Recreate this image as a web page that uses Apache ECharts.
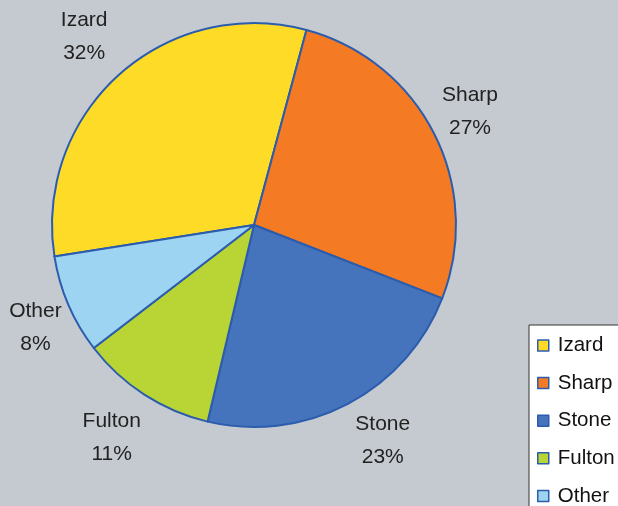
<!DOCTYPE html>
<html>
<head>
<meta charset="utf-8">
<script src="https://cdn.jsdelivr.net/npm/echarts@6/dist/echarts.min.js"></script>
<style>
html,body{margin:0;padding:0;background:#C5CAD0;}
#chart{width:618px;height:506px;}
</style>
</head>
<body>
<div id="chart"></div>
<script>
const categories = ['Izard', 'Sharp', 'Stone', 'Fulton', 'Other'];
const values = [32, 27, 23, 11, 8];
const colors = ['#FDDB27', '#F47A24', '#4573BC', '#B8D535', '#9DD4F2'];

const total = values.reduce((a, b) => a + b, 0);
const chart = echarts.init(document.getElementById('chart'));
const data = categories.map((c, i) => ({ name: c, value: values[i], itemStyle: { color: colors[i] } }));
const font = 'Liberation Sans, Arial, sans-serif';

chart.setOption({
  backgroundColor: '#C5CAD0',
  animation: false,
  legend: {
    orient: 'vertical',
    left: 529,
    top: 325,
    height: 400,
    width: 200,
    data: categories,
    backgroundColor: '#FFFFFF',
    borderColor: '#333333',
    borderWidth: 1,
    padding: [10, 60, 30, 8],
    itemGap: 16.6,
    itemWidth: 11,
    itemHeight: 11,
    icon: 'rect',
    itemStyle: { borderColor: '#2B5CAD', borderWidth: 1.5 },
    textStyle: { fontFamily: font, fontSize: 20.5, color: '#111', lineHeight: 20, padding: [0, 0, 0, 4] }
  },
  series: [
    {
      type: 'pie',
      center: [254, 225],
      radius: 202,
      startAngle: 189,
      clockwise: true,
      data: data,
      itemStyle: { borderColor: '#2B5CAD', borderWidth: 2 },
      label: { show: false },
      labelLine: { show: false },
      emphasis: { disabled: true }
    },
    {
      type: 'pie',
      center: [254, 225],
      radius: [234, 262],
      startAngle: 189,
      clockwise: true,
      silent: true,
      legendHoverLink: false,
      data: categories.map((c, i) => ({
        name: c,
        value: values[i],
        label: c === 'Other' ? { offset: [12, 4] } :
               c === 'Stone' ? { offset: [12, -7] } :
               c === 'Sharp' ? { offset: [-8, 0] } :
               c === 'Fulton' ? { offset: [-6, 2] } :
               { offset: [-2, -2] }
      })),
      itemStyle: { color: 'rgba(0,0,0,0)', borderWidth: 0 },
      label: {
        show: true,
        position: 'inside',
        formatter: p => p.name + '\n' + Math.round(p.value / total * 100) + '%',
        fontFamily: font,
        fontSize: 21,
        lineHeight: 33,
        color: '#222'
      },
      labelLine: { show: false },
      emphasis: { disabled: true }
    }
  ]
});
</script>
</body>
</html>
